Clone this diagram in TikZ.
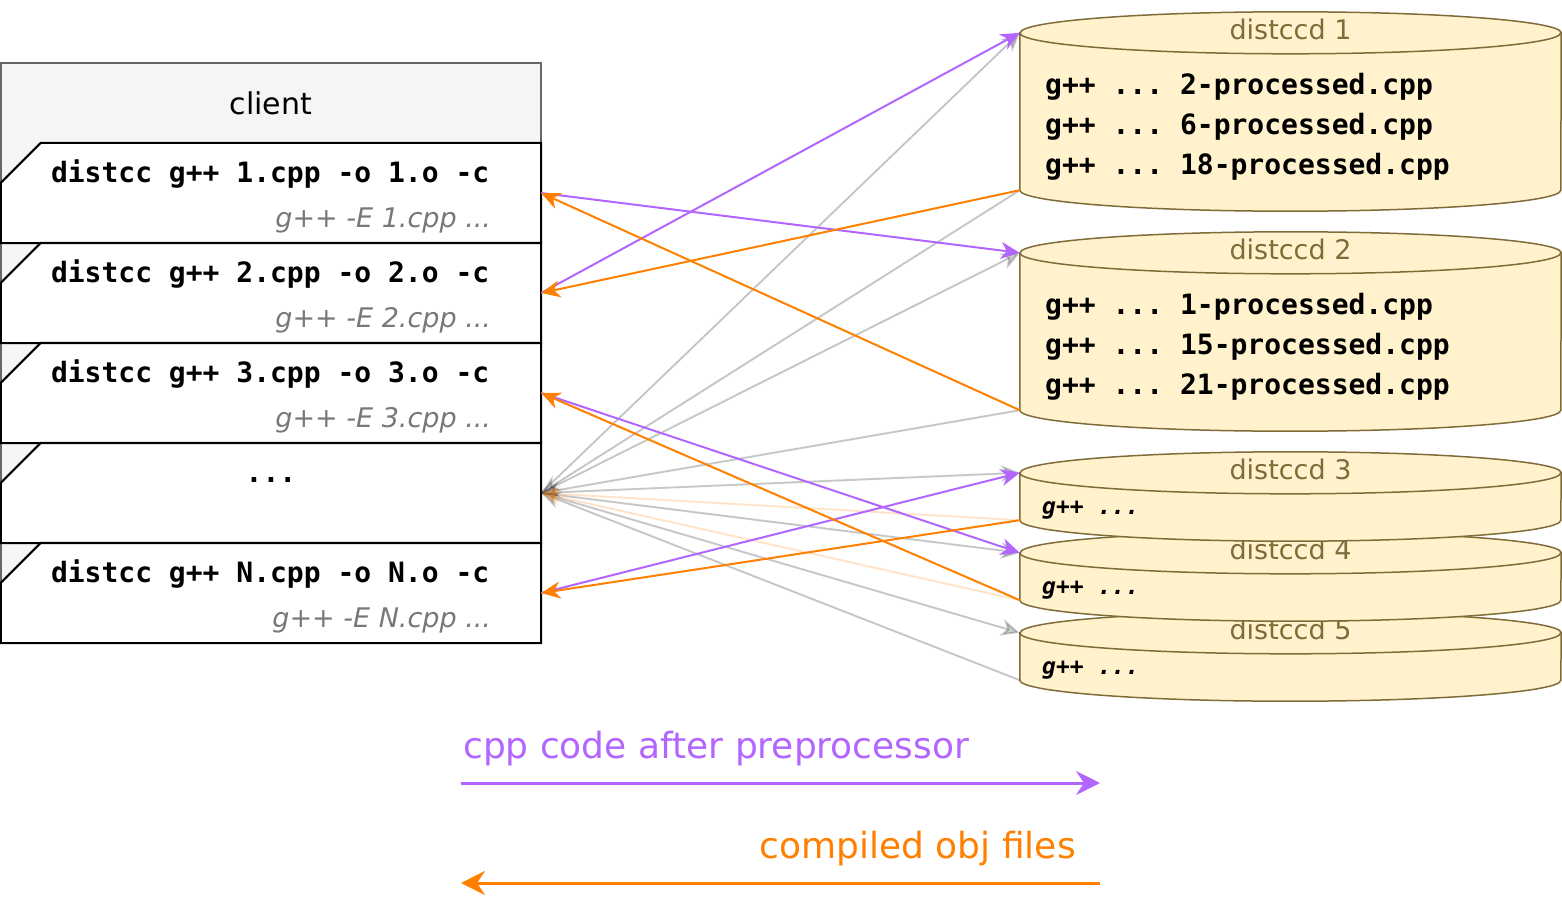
\documentclass[tikz,border=0pt]{standalone}
\usepackage{fontspec}
\setmainfont{DejaVu Sans}
\setmonofont{DejaVu Sans Mono}
\usetikzlibrary{shapes.geometric, arrows.meta, positioning}
\definecolor{cppviolet}{RGB}{178,102,255}
\definecolor{objorange}{RGB}{255,128,0}
\definecolor{clientgray}{RGB}{245,245,245}
\definecolor{clientedge}{RGB}{102,102,102}
\definecolor{hintgray}{RGB}{120,120,120}
\definecolor{srvfill}{RGB}{255,242,204}
\definecolor{srvedge}{RGB}{128,108,56}

\newcommand{\cmdfont}{\fontsize{28}{34}\selectfont\ttfamily\bfseries}
\newcommand{\hintfont}{\fontsize{27}{34}\selectfont\rmfamily\mdseries\itshape\color{hintgray}}
\newcommand{\toprule}{\rule{0pt}{33pt}}
\newcommand{\lowrule}{\rule[-10pt]{0pt}{10pt}}

\tikzset{
  cmdrow/.style={minimum width=540, minimum height=100, inner sep=0pt,
    path picture={\fill[white] ([yshift=-40pt]path picture bounding box.north west)
      -- ([xshift=40pt]path picture bounding box.north west)
      -- (path picture bounding box.north east) -- (path picture bounding box.south east)
      -- (path picture bounding box.south west) -- cycle;}},
  rowedge/.style={draw=black, line width=2pt},
  srvbody/.style={minimum width=541, inner sep=0pt},
  srvline/.style={draw=srvedge, fill=srvfill, line width=1.5pt},
  srvname/.style={text=srvedge, inner sep=0pt, font=\fontsize{27}{32}\selectfont},
  srvjobs/.style={anchor=west, align=left, inner sep=0pt, font=\fontsize{28}{40}\selectfont\ttfamily\bfseries},
  srvjob/.style={anchor=west, inner sep=0pt, font=\fontsize{23}{28}\selectfont\ttfamily\bfseries\itshape},
  cpp/.style={draw=cppviolet, fill=cppviolet, line width=2pt, -{Stealth[length=19pt,width=17pt,inset=6pt]}},
  obj/.style={draw=objorange, fill=objorange, line width=2pt, -{Stealth[length=19pt,width=17pt,inset=6pt]}},
  idle/.style={draw=black, fill=black, opacity=0.2, line width=2pt, -{Stealth[length=19pt,width=17pt,inset=6pt]}},
  idleobj/.style={draw=objorange, fill=objorange, opacity=0.2, line width=2pt, -{Stealth[length=19pt,width=17pt,inset=6pt]}},
}

\begin{document}
\begin{tikzpicture}[x=1pt,y=-1pt]
\useasboundingbox (0,0) rectangle (1562,902);

% client container
\node[draw=clientedge, fill=clientgray, line width=2pt, minimum width=540, minimum height=580, inner sep=0pt] (client) at (271,353) {};
\node[inner sep=0pt, font=\fontsize{30}{36}\selectfont] (clienttitle) at (271,103) {client};

% compile jobs
\foreach \i/\n in {1/1,2/2,3/3,5/N}
  \node[cmdrow] (row\i) at (271,93+100*\i) {
  \begin{minipage}{440pt}
  \cmdfont\toprule distcc g++ \n.cpp -o \n.o -c\\[11pt]
  \hspace*{\fill}{\hintfont g++ -E \n.cpp ...}\lowrule
  \end{minipage}
  };
\node[cmdrow] (row4) at (271,493) {
\begin{minipage}{440pt}
\centering
\cmdfont\toprule ...\\[11pt]
\lowrule
\end{minipage}
};
\foreach \r in {row1,row2,row3,row4,row5}
  \draw[rowedge] ([yshift=-40pt]\r.north west) -- ([xshift=40pt]\r.north west) -- (\r.north east)
    -- (\r.south east) -- (\r.south west) -- cycle;

% servers, bottom one first
\foreach \d/\y/\h/\n in {d5/656.5/47/5, d4/576.5/47/4, d3/496.5/47/3, d2/331.5/157/2, d1/111.5/157/1} {
  \node[srvbody, minimum height=\h] (\d) at (1290.5,\y) {};
  \filldraw[srvline] (\d.north west) -- (\d.south west)
    arc[start angle=180, end angle=360, x radius=270.5pt, y radius=21pt] -- (\d.north east)
    arc[start angle=0, end angle=180, x radius=270.5pt, y radius=21pt] -- cycle;
  \draw[srvline, fill=none] (\d.north west) arc[start angle=180, end angle=360, x radius=270.5pt, y radius=21pt];
  \node[srvname] (n\n) at ([yshift=3pt]\d.north) {distccd \n};
}
\node[srvjobs] (j1) at (1045,127) {g++ ... 2-processed.cpp\\g++ ... 6-processed.cpp\\g++ ... 18-processed.cpp};
\node[srvjobs] (j2) at (1045,347) {g++ ... 1-processed.cpp\\g++ ... 15-processed.cpp\\g++ ... 21-processed.cpp};
\node[srvjob] (j3) at (1042,510) {g++ ...};
\node[srvjob] (j4) at (1042,590) {g++ ...};
\node[srvjob] (j5) at (1042,670) {g++ ...};

% idle traffic of the other jobs
\foreach \d in {d1,d2,d3,d4,d5}
  \draw[idle] (row4.east) -- (\d.north west);
\foreach \d in {d1,d2,d5}
  \draw[idle] (\d.south west) -- (row4.east);
\foreach \d in {d3,d4}
  \draw[idleobj] (\d.south west) -- (row4.east);

% preprocessed code out
\draw[cpp] (row2.east) -- (d1.north west);
\draw[cpp] (row1.east) -- (d2.north west);
\draw[cpp] (row5.east) -- (d3.north west);
\draw[cpp] (row3.east) -- (d4.north west);

% object files back
\draw[obj] (d1.south west) -- (row2.east);
\draw[obj] (d2.south west) -- (row1.east);
\draw[obj] (d3.south west) -- (row5.east);
\draw[obj] (d4.south west) -- (row3.east);

% legend
\coordinate (cppA) at (461,783);
\coordinate (cppB) at (1100,783);
\coordinate (objA) at (1100,883);
\coordinate (objB) at (461,883);
\node[anchor=west, inner sep=0pt, text=cppviolet, font=\fontsize{36}{42}\selectfont] (cpplabel) at (463,749) {cpp code after preprocessor};
\node[anchor=east, inner sep=0pt, text=objorange, font=\fontsize{36}{42}\selectfont] (objlabel) at (1076,849) {compiled obj files};
\draw[draw=cppviolet, fill=cppviolet, line width=3pt, -{Stealth[length=24pt,width=24pt,inset=8pt]}] (cppA) -- (cppB);
\draw[draw=objorange, fill=objorange, line width=3pt, -{Stealth[length=24pt,width=24pt,inset=8pt]}] (objA) -- (objB);
\end{tikzpicture}
\end{document}
